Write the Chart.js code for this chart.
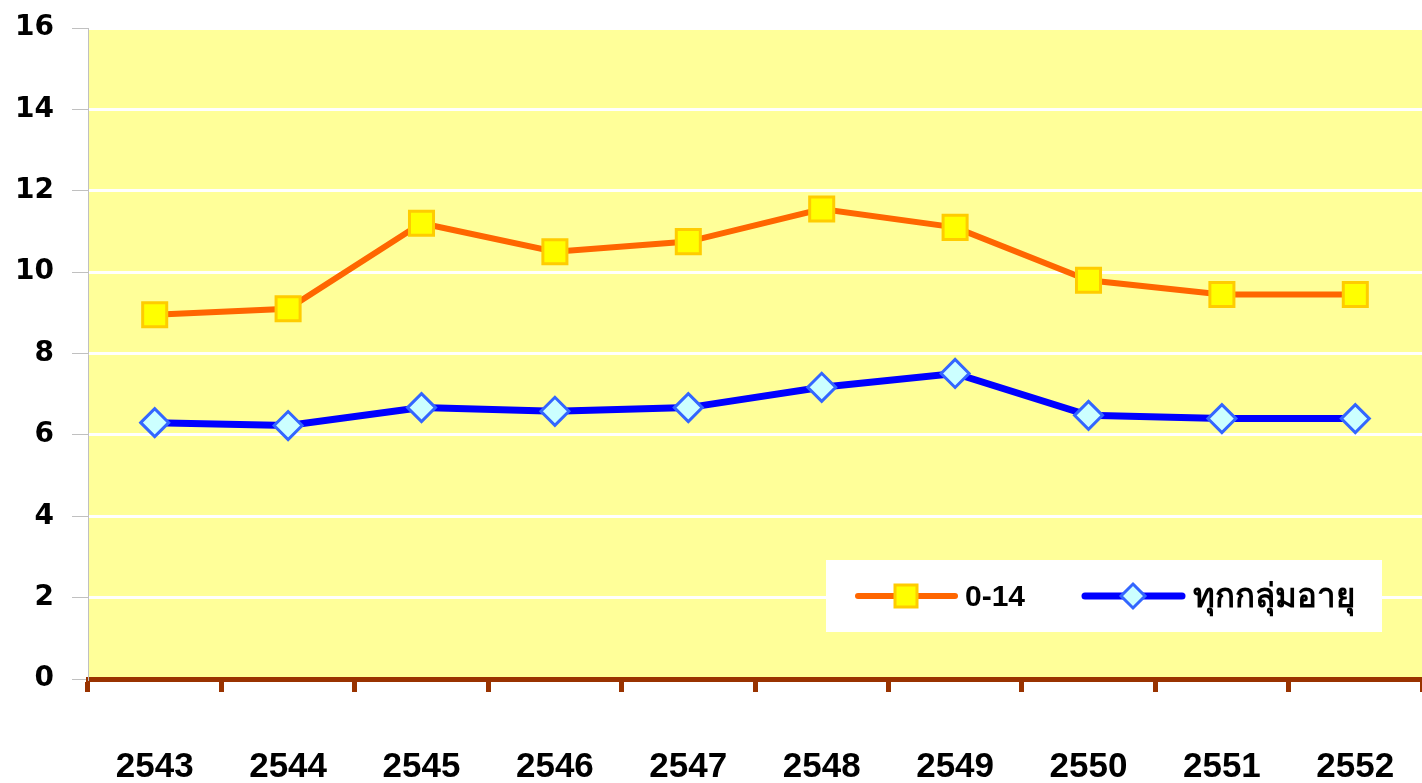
<!DOCTYPE html>
<html lang="th">
<head>
    <meta charset="UTF-8">
    <title>อัตรา 0-14 และทุกกลุ่มอายุ</title>
    <script src="https://cdn.jsdelivr.net/npm/chart.js"></script>
    <style>
        html, body {
            margin: 0;
            padding: 0;
            background: #ffffff;
            overflow: hidden;
        }
        #rateChart {
            display: block;
        }
    </style>
</head>
<body>

<canvas id="rateChart" width="1422" height="783"></canvas>

<script>
    // ปี พ.ศ.
    const years = ['2543', '2544', '2545', '2546', '2547', '2548', '2549', '2550', '2551', '2552'];
    // กลุ่มอายุ 0-14 ปี
    const age0to14 = [8.95, 9.1, 11.2, 10.5, 10.75, 11.55, 11.1, 9.8, 9.45, 9.45];
    // ทุกกลุ่มอายุ
    const allAges = [6.3, 6.23, 6.67, 6.58, 6.67, 7.17, 7.51, 6.48, 6.4, 6.4];
    // แกน y
    const yTicks = [0, 2, 4, 6, 8, 10, 12, 14, 16];
    const seriesNames = ['0-14', 'ทุกกลุ่มอายุ'];

    // พื้นหลังสีเหลืองของพื้นที่กราฟ
    const plotBackground = {
        id: 'plotBackground',
        beforeDraw(chart) {
            const { ctx, chartArea } = chart;
            ctx.save();
            ctx.fillStyle = '#FFFF99';
            ctx.fillRect(chartArea.left, chartArea.top, chartArea.right - chartArea.left, chartArea.bottom - chartArea.top);
            ctx.restore();
        }
    };

    // กล่องคำอธิบายภายในกราฟ
    const boxLegend = {
        id: 'boxLegend',
        afterDraw(chart) {
            const ctx = chart.ctx;
            const ds = chart.data.datasets;
            ctx.save();
            ctx.fillStyle = '#ffffff';
            ctx.fillRect(826, 560, 556, 72);

            const items = [
                { x: 858, textX: 965, font: 'bold 30px "Liberation Sans", Arial, sans-serif' },
                { x: 1085, textX: 1193, font: 'bold 33px Tahoma, "DejaVu Sans", sans-serif' }
            ];
            const y = 596;
            items.forEach((it, i) => {
                const d = ds[i];
                ctx.strokeStyle = d.borderColor;
                ctx.lineWidth = d.borderWidth;
                ctx.lineCap = 'round';
                ctx.beginPath();
                ctx.moveTo(it.x, y);
                ctx.lineTo(it.x + 97, y);
                ctx.stroke();

                const cx = it.x + 48;
                ctx.fillStyle = d.pointBackgroundColor;
                ctx.strokeStyle = d.pointBorderColor;
                ctx.lineWidth = d.pointBorderWidth;
                ctx.beginPath();
                if (d.pointStyle === 'rect') {
                    ctx.rect(cx - 11, y - 11, 22, 22);
                } else {
                    ctx.moveTo(cx, y - 12);
                    ctx.lineTo(cx + 12, y);
                    ctx.lineTo(cx, y + 12);
                    ctx.lineTo(cx - 12, y);
                    ctx.closePath();
                }
                ctx.fill();
                ctx.stroke();

                ctx.fillStyle = '#000000';
                ctx.font = it.font;
                ctx.textAlign = 'left';
                ctx.textBaseline = 'middle';
                ctx.fillText(d.label, it.textX, y + 2);
            });
            ctx.restore();
        }
    };

    const ctx = document.getElementById('rateChart').getContext('2d');
    const rateChart = new Chart(ctx, {
        type: 'line',
        data: {
            labels: years,
            datasets: [{
                label: seriesNames[0],
                data: age0to14,
                borderColor: '#FF6600',
                borderWidth: 6,
                pointStyle: 'rect',
                pointRadius: 17,
                pointBackgroundColor: '#FFFF00',
                pointBorderColor: '#FFCC00',
                pointBorderWidth: 3,
                tension: 0
            }, {
                label: seriesNames[1],
                data: allAges,
                borderColor: '#0000FF',
                borderWidth: 7,
                pointStyle: 'rectRot',
                pointRadius: 14,
                pointBackgroundColor: '#CCFFFF',
                pointBorderColor: '#3366FF',
                pointBorderWidth: 3,
                tension: 0
            }]
        },
        options: {
            responsive: false,
            animation: false,
            devicePixelRatio: 1,
            layout: {
                autoPadding: false,
                padding: { top: 28, right: 0, left: 0, bottom: 0 }
            },
            plugins: {
                legend: { display: false },
                tooltip: { enabled: false }
            },
            scales: {
                x: {
                    offset: true,
                    afterFit(scale) {
                        scale.height = 104;
                    },
                    grid: {
                        display: true,
                        offset: true,
                        drawOnChartArea: false,
                        tickLength: 13,
                        tickColor: '#993300',
                        tickWidth: 5
                    },
                    border: { color: '#993300', width: 5 },
                    ticks: {
                        color: '#000000',
                        padding: 5,
                        maxRotation: 0,
                        font: { family: '"Liberation Sans", Arial, sans-serif', size: 35, weight: 'bold', lineHeight: '140px' }
                    }
                },
                y: {
                    min: 0,
                    max: 16,
                    afterFit(scale) {
                        scale.width = 88;
                        scale.paddingTop = 0;
                        scale.paddingBottom = 0;
                    },
                    afterBuildTicks(scale) {
                        scale.ticks = yTicks.map(v => ({ value: v }));
                    },
                    grid: {
                        color: '#ffffff',
                        lineWidth: 3,
                        tickLength: 16,
                        tickColor: '#C0C0C0',
                        tickWidth: 1
                    },
                    border: { color: '#C0C0C0', width: 1 },
                    ticks: {
                        color: '#000000',
                        padding: 18,
                        font: { family: '"DejaVu Sans", sans-serif', size: 28, weight: 'bold' }
                    }
                }
            }
        },
        plugins: [plotBackground, boxLegend]
    });
</script>

</body>
</html>
